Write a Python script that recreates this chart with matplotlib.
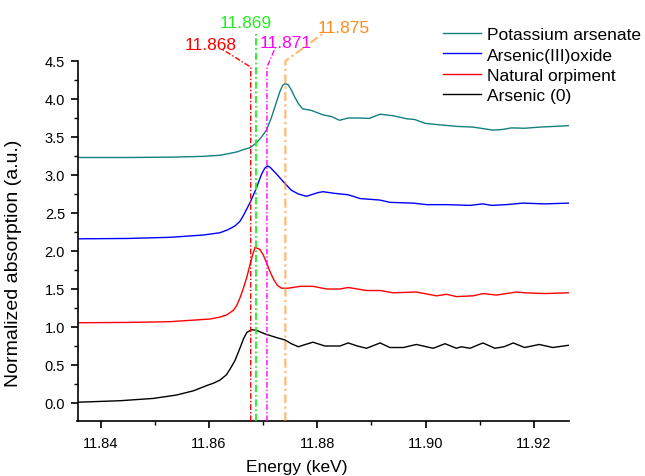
import matplotlib
matplotlib.use("Agg")
import matplotlib.pyplot as plt
from matplotlib.ticker import MultipleLocator

plt.rcParams['font.family'] = ['Liberation Sans', 'DejaVu Sans']

# ---------------- data ----------------
e_teal = [11.8357, 11.845, 11.853, 11.8589, 11.862, 11.8639, 11.8652, 11.8662, 11.8676, 11.8687,
          11.8697, 11.8706, 11.8715, 11.8725, 11.8731, 11.8736, 11.874, 11.8746, 11.8752, 11.8758,
          11.8765, 11.8773, 11.8789, 11.8811, 11.8826, 11.8841, 11.8857, 11.8875, 11.8896, 11.8916,
          11.894, 11.8965, 11.898, 11.8999, 11.9026, 11.9057, 11.9088, 11.9125, 11.9143,
          11.9159, 11.9183, 11.921, 11.924, 11.9265]
v_teal = [3.23, 3.23, 3.235, 3.245, 3.26, 3.285, 3.305, 3.33, 3.36, 3.42,
          3.5, 3.59, 3.75, 3.97, 4.10, 4.18, 4.2, 4.19, 4.12, 4.03,
          3.94, 3.87, 3.85, 3.79, 3.77, 3.72, 3.75, 3.75, 3.745, 3.80,
          3.78, 3.74, 3.73, 3.68, 3.66, 3.64, 3.63, 3.59, 3.60,
          3.62, 3.615, 3.63, 3.64, 3.65]

e_blue = [11.8357, 11.845, 11.8528, 11.8589, 11.862, 11.8635, 11.8648, 11.8657, 11.8663, 11.8676,
          11.8687, 11.8697, 11.8703, 11.8708, 11.8713, 11.8725, 11.874, 11.8752, 11.8765, 11.878,
          11.8802, 11.8811, 11.883, 11.8857, 11.8879, 11.8916, 11.8934, 11.8977, 11.9002,
          11.9039, 11.9082, 11.9106, 11.9122, 11.9149, 11.918, 11.922, 11.9265]
v_blue = [2.16, 2.165, 2.18, 2.21, 2.24, 2.28, 2.33, 2.39, 2.46, 2.64,
          2.82, 3.01, 3.09, 3.12, 3.10, 3.01, 2.89, 2.80, 2.75, 2.72,
          2.77, 2.78, 2.76, 2.74, 2.69, 2.67, 2.64, 2.63, 2.61,
          2.61, 2.60, 2.62, 2.60, 2.61, 2.63, 2.62, 2.63]

e_red = [11.8357, 11.845, 11.8528, 11.8602, 11.862, 11.8633, 11.8645, 11.8651, 11.8657, 11.8663,
         11.8670, 11.8676, 11.8681, 11.8685, 11.8694, 11.8700, 11.8706, 11.8712, 11.8719, 11.8726,
         11.8734, 11.8746, 11.8768, 11.8792, 11.8817, 11.8842, 11.8857, 11.8891, 11.8916, 11.894,
         11.8983, 11.902, 11.9039, 11.9057, 11.9088, 11.9106, 11.9131, 11.9168, 11.9183,
         11.922, 11.9265]
v_red = [1.056, 1.06, 1.07, 1.105, 1.13, 1.16, 1.22, 1.28, 1.38, 1.5,
         1.66, 1.83, 1.96, 2.05, 2.02, 1.95, 1.85, 1.74, 1.63, 1.55,
         1.51, 1.51, 1.535, 1.535, 1.50, 1.50, 1.52, 1.48, 1.48, 1.45,
         1.46, 1.41, 1.43, 1.40, 1.41, 1.44, 1.42, 1.46, 1.45,
         1.44, 1.45]

e_black = [11.8357, 11.8436, 11.8497, 11.854, 11.8571, 11.8596, 11.8608, 11.862, 11.8632,
           11.864, 11.8648, 11.8657, 11.8664, 11.867, 11.8679, 11.8688, 11.8703, 11.8725,
           11.874, 11.8752, 11.8765, 11.8778, 11.8792, 11.8814, 11.8842, 11.8857, 11.8874,
           11.8891, 11.8916, 11.8934, 11.8959, 11.8983, 11.9014, 11.9036, 11.9057, 11.9066,
           11.9082, 11.9106, 11.9128, 11.9145, 11.9162, 11.9183, 11.921, 11.9235, 11.9265]
v_black = [0.01, 0.03, 0.06, 0.105, 0.16, 0.23, 0.26, 0.30, 0.37,
           0.46, 0.56, 0.72, 0.85, 0.93, 0.965, 0.955, 0.91, 0.86,
           0.83, 0.78, 0.74, 0.77, 0.80, 0.75, 0.75, 0.79, 0.75,
           0.72, 0.79, 0.73, 0.73, 0.77, 0.72, 0.78, 0.72, 0.74,
           0.72, 0.79, 0.72, 0.74, 0.79, 0.73, 0.77, 0.73, 0.76]

series_names = ["Potassium arsenate", "Arsenic(III)oxide", "Natural orpiment", "Arsenic (0)"]
series_colors = ["#128080", "#0000FF", "#FF0000", "#000000"]

edge_labels = ["11.868", "11.869", "11.871", "11.875"]
edge_positions = [11.8677, 11.8687, 11.8707, 11.8741]
edge_colors = ["#FF0000", "#22EE22", "#FF00FF", "#FF8C1A"]

# ---------------- figure ----------------
W, H = 645, 477
fig = plt.figure(figsize=(W / 100, H / 100), dpi=100)
ax = fig.add_axes([77.5 / W, 1 - 422 / H, (569 - 77.5) / W, (422 - 62) / H])

xs = [e_teal, e_blue, e_red, e_black]
ys = [v_teal, v_blue, v_red, v_black]
for x, y, c, n in zip(xs, ys, series_colors, series_names):
    ax.plot(x, y, color=c, lw=1.0, label=n)

ax.set_xlim(11.8357, 11.9265)
ax.set_ylim(-0.237, 4.5)

# vertical dash-dot edge markers with leader lines to labels
y_bot = -0.237
leader = {
    # label: (kink y, end x, end y, text x, text baseline y)
    "11.868": (4.42, 11.8623, 4.66, 11.8603, 4.66),
    "11.869": (4.86, None, None, 11.8667, 4.945),
    "11.871": (4.42, 11.8724, 4.70, 11.8742, 4.68),
    "11.875": (4.50, 11.8814, 4.88, 11.8848, 4.88),
}
for lab, xp, col in zip(edge_labels, edge_positions, edge_colors):
    ky, ex, ey, tx, ty = leader[lab]
    px = [xp, xp]
    py = [y_bot, ky]
    if ex is not None:
        px.append(ex)
        py.append(ey)
    lw = {"11.875": 1.6, "11.869": 1.3}.get(lab, 1.0)
    a = 0.6 if lab == "11.875" else 1.0
    ax.plot(px, py, color=col, lw=lw, alpha=a, ls=(0, (4, 1.5, 1, 1.5)), clip_on=False, zorder=3)
    ax.text(tx, ty, lab, color=col, fontsize=12.5, ha='center', va='baseline', clip_on=False)

# axes styling
for s in ['top', 'right']:
    ax.spines[s].set_visible(False)
for s in ['left', 'bottom']:
    ax.spines[s].set_linewidth(1.2)
ax.xaxis.set_major_locator(MultipleLocator(0.02))
ax.xaxis.set_minor_locator(MultipleLocator(0.01))
ax.yaxis.set_major_locator(MultipleLocator(0.5))
ax.yaxis.set_minor_locator(MultipleLocator(0.25))
ax.xaxis.set_major_formatter(plt.FuncFormatter(lambda v, p: f"{v:.2f}"))
ax.yaxis.set_major_formatter(plt.FuncFormatter(lambda v, p: f"{v:.1f}"))
ax.tick_params(which='major', length=5, width=1.2, labelsize=10.5, direction='out')
ax.tick_params(which='minor', length=3, width=1.0, direction='out')
ax.tick_params(axis='y', pad=4)
ax.tick_params(axis='x', pad=6)

ax.set_xlabel("Energy (keV)", fontsize=12.5)
ax.set_ylabel("Normalized absorption (a.u.)", fontsize=14)
ax.xaxis.set_label_coords(0.447, -0.105)
ax.yaxis.set_label_coords(-0.113, 0.44)

leg = ax.legend(loc='upper left', bbox_to_anchor=(443 / W, 1 - 28 / H),
                bbox_transform=fig.transFigure, frameon=False, fontsize=12.5,
                handlelength=2.2, handletextpad=0.35, labelspacing=0.3,
                borderpad=0, borderaxespad=0)

fig.savefig("out.png", dpi=100)
